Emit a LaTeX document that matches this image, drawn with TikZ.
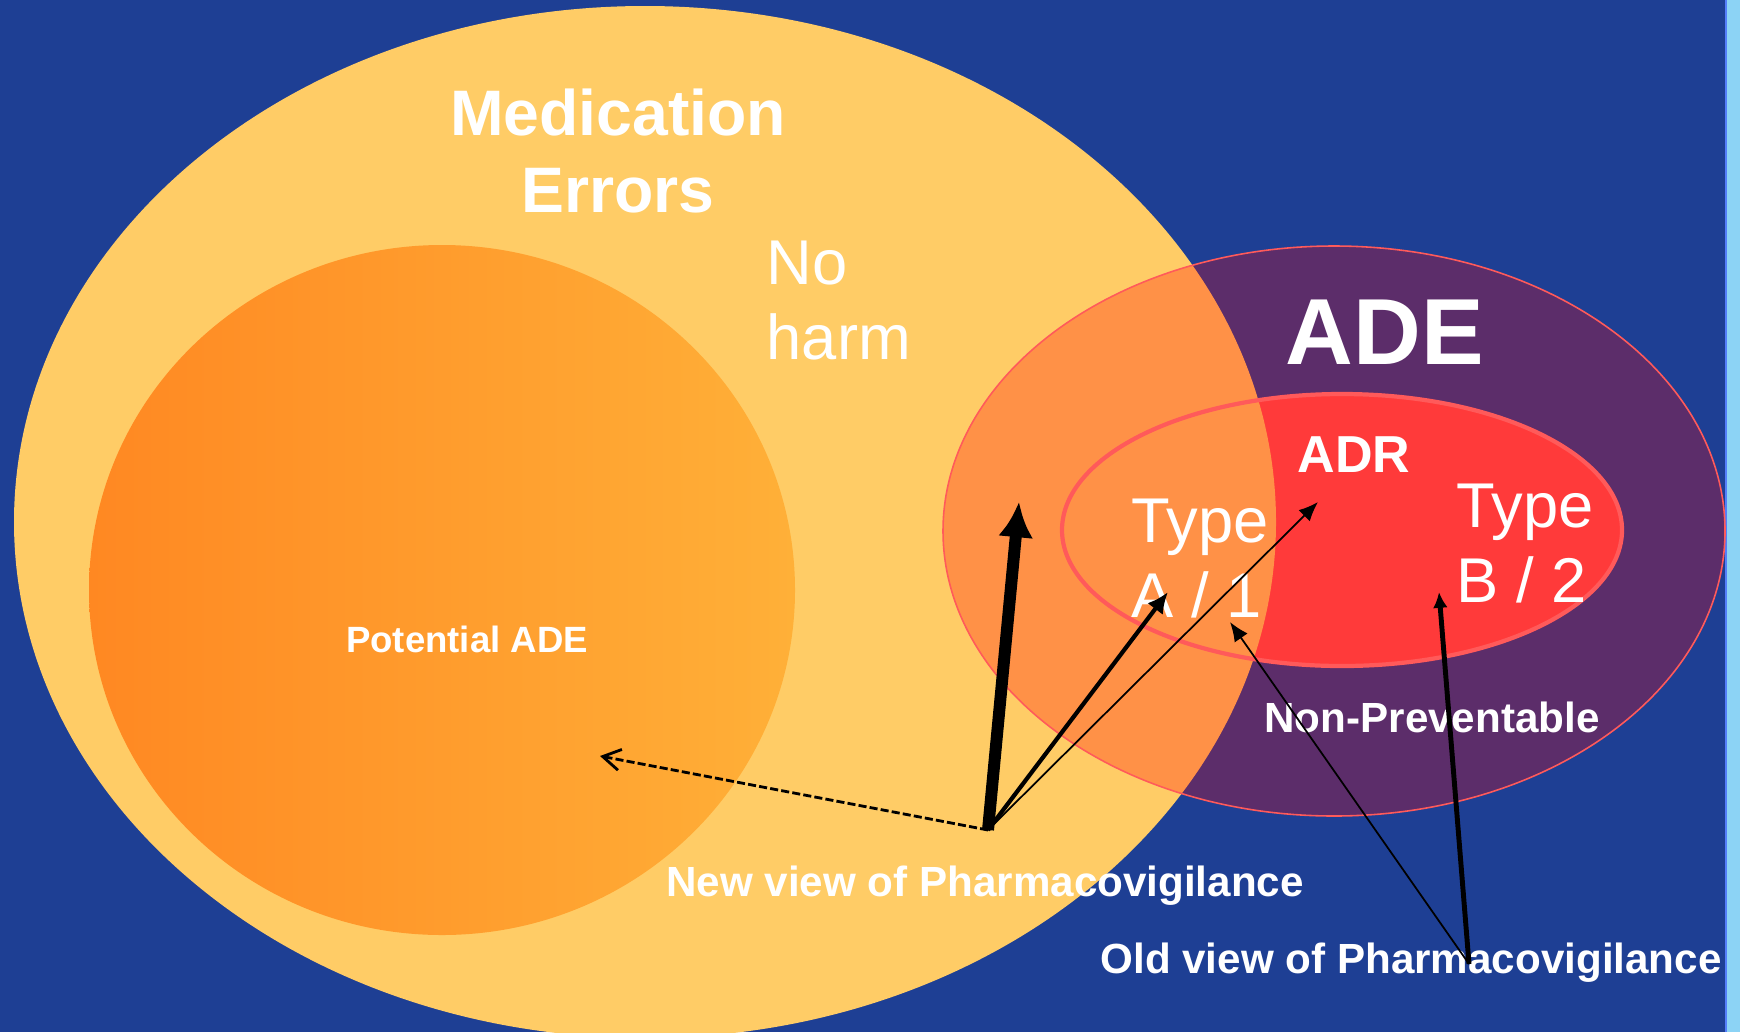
\documentclass[tikz,border=0pt]{standalone}
\usepackage{fontspec}
\setmainfont{Liberation Sans}
\usetikzlibrary{arrows.meta}

\definecolor{slideblue}{HTML}{1E3F94}
\definecolor{skystrip}{HTML}{8CD3F5}
\definecolor{mederr}{HTML}{FFCC66}
\definecolor{potleft}{HTML}{FF8822}
\definecolor{potright}{HTML}{FFB038}
\definecolor{adepurple}{HTML}{5C2D6A}
\definecolor{adrred}{HTML}{FF3A3A}
\definecolor{overlap}{HTML}{FF9147}
\definecolor{edgered}{HTML}{FF5A5A}

\tikzset{
  lbl/.style={text=white, inner sep=0pt},
  lblbig/.style={lbl, font=\bfseries\fontsize{18.3pt}{21.9pt}\selectfont},
  lblreg/.style={lbl, font=\fontsize{18pt}{21.5pt}\selectfont},
  lblsm/.style={lbl, font=\bfseries\fontsize{12pt}{14pt}\selectfont},
  heavy/.style={line width=3.4pt, -{Latex[length=10pt,width=10pt]}},
  medium/.style={line width=1.2pt, -{Latex[length=6pt,width=5.5pt]}},
  thin/.style={line width=0.5pt, -{Latex[length=5.5pt,width=4.5pt]}},
  dashptr/.style={line width=0.8pt, dash pattern=on 2.3pt off 0.9pt,
    -{Straight Barb[length=5pt,width=6pt]}},
}

\begin{document}
\begin{tikzpicture}[x=0.1mm,y=-0.1mm]
\useasboundingbox (0,0) rectangle (1740,1032);
\clip (0,0) rectangle (1740,1032);
\fill[slideblue] (0,0) rectangle (1740,1032);
\fill[skystrip] (1726,0) rectangle (1740,1032);
\draw[blue!40!skystrip, line width=0.4pt] (1726,0) -- (1726,1032);

% medication errors and potential ADE
\fill[mederr] (645,522) ellipse [x radius=631, y radius=516];
\shade[left color=potleft, right color=potright]
  (442,590) ellipse [x radius=353, y radius=345];

% ADE / ADR sets
\fill[adepurple] (1334,531) ellipse [x radius=391, y radius=285];
\fill[adrred] (1342,530) ellipse [x radius=280, y radius=136];
\begin{scope}
  \clip (645,522) ellipse [x radius=631, y radius=516];
  \fill[overlap] (1334,531) ellipse [x radius=391, y radius=285];
\end{scope}
\draw[edgered, line width=0.45pt] (1334,531) ellipse [x radius=391, y radius=285];
\draw[edgered, line width=1.2pt] (1342,530) ellipse [x radius=280, y radius=136];

% labels
\node[lblbig, align=center, anchor=north] (medtxt) at (618,88) {Medication\\Errors};
\node[lblreg, align=left, anchor=north west] (noharm) at (766,240) {No\\harm};
\node[lbl, font=\bfseries\fontsize{26.7pt}{30pt}\selectfont, anchor=base] (adetxt) at (1385,364) {ADE};
\node[lbl, font=\bfseries\fontsize{14.8pt}{17pt}\selectfont, anchor=base] (adrtxt) at (1354,472) {ADR};
\node[lblreg, align=left, anchor=north west] (typea) at (1131,498) {Type\\A / 1};
\node[lblreg, align=left, anchor=north west] (typeb) at (1456,483) {Type\\B / 2};
\node[lbl, font=\bfseries\fontsize{10.4pt}{12pt}\selectfont, anchor=base] (pottxt) at (467,652) {Potential ADE};
\node[lbl, font=\bfseries\fontsize{12pt}{14pt}\selectfont, anchor=base] (nonprev) at (1432,732) {Non-Preventable};
\node[lblsm, anchor=base] (newtxt) at (985,896) {New view of Pharmacovigilance};
\node[lblsm, anchor=base] (oldtxt) at (1411,973) {Old view of Pharmacovigilance};

% pointers
\coordinate (newview) at (988,830);
\coordinate (oldview) at (1469,964);
\coordinate (tipade) at (1019,502);
\coordinate (tipa) at (1168,592);
\coordinate (tipadr) at (1318,502);
\coordinate (tippot) at (600,756);
\coordinate (tipaold) at (1230,622);
\coordinate (tipb) at (1439,592);

\draw[dashptr] (newview) -- (tippot);
\draw[heavy] (newview) -- (tipade);
\draw[medium] (newview) -- (tipa);
\draw[thin] (newview) -- (tipadr);
\draw[thin] (oldview) -- (tipaold);
\draw[line width=1.4pt, -{Latex[length=4.5pt,width=4.2pt]}] (oldview) -- (tipb);
\end{tikzpicture}
\end{document}
